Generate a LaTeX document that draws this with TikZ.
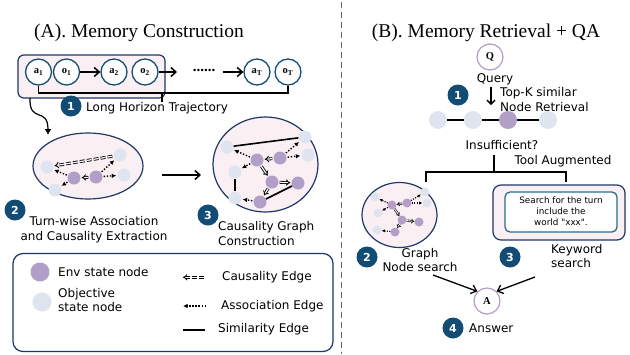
\documentclass[tikz,border=0pt]{standalone}
\usepackage{fontspec}
\setmainfont{Liberation Serif}
\newfontfamily\hand{DejaVu Sans}
\usetikzlibrary{arrows.meta,shapes.geometric,calc}
\definecolor{navy}{RGB}{30,55,105}
\definecolor{tc}{RGB}{25,80,120}
\definecolor{badgec}{RGB}{18,75,115}
\definecolor{envc}{RGB}{178,158,198}
\definecolor{objc}{RGB}{222,229,241}
\definecolor{pinkf}{RGB}{250,239,243}
\definecolor{qc}{RGB}{180,155,200}
\definecolor{inbox}{RGB}{40,110,140}
\tikzset{
  traj/.style={circle, draw=tc, line width=1.3pt, fill=white, minimum size=26pt, inner sep=0pt, font=\fontsize{10.5}{12}\selectfont\bfseries},
  env/.style={circle, fill=envc, minimum size=13pt, inner sep=0pt},
  obj/.style={circle, fill=objc, minimum size=13pt, inner sep=0pt},
  senv/.style={circle, fill=envc, minimum size=9pt, inner sep=0pt},
  sobj/.style={circle, fill=objc, minimum size=9pt, inner sep=0pt},
  caus/.style={double, double distance=1.2pt, line width=0.85pt, -{Implies}, shorten >=1pt, shorten <=1pt},
  assoc/.style={line width=1.4pt, dash pattern=on 1.4pt off 1.7pt, -{Latex[length=4.5pt,width=4.5pt]}, shorten >=1pt, shorten <=1pt},
  simil/.style={line width=1.6pt},
  scaus/.style={double, double distance=0.9pt, line width=0.6pt, -{Implies}},
  sassoc/.style={line width=1.1pt, dash pattern=on 1.1pt off 1.3pt, -{Latex[length=3.2pt,width=3.2pt]}},
  badge/.style={circle, fill=badgec, text=white, minimum size=21pt, inner sep=0pt, font=\hand\bfseries\fontsize{11}{12}\selectfont},
  hand/.style={font=\hand\fontsize{12}{14.5}\selectfont, inner sep=0pt},
  ttl/.style={font=\fontsize{19.5}{21}\selectfont, inner sep=0pt},
  barb/.style={line width=1.5pt, -{Straight Barb[length=5pt,width=9pt]}},
  pinkbox/.style={draw=navy, line width=1.2pt, fill=pinkf},
}
\begin{document}
\begin{tikzpicture}[x=1pt,y=-1pt]
\useasboundingbox (0,0) rectangle (630,354);
\fill[white] (0,0) rectangle (630,354);

% divider
\coordinate (dtop) at (341,2);
\coordinate (dbot) at (341,354);
\draw[gray!80!black, line width=1pt, dash pattern=on 6pt off 4pt] (dtop) -- (dbot);

% ================= (A) =================
\node[ttl] (titleA) at (139,33) {(A). Memory Construction};

\node[pinkbox, rounded corners=6pt, minimum width=147pt, minimum height=43pt, inner sep=0pt] (tbox) at (91.5,76.5) {};

\node[traj] (a1) at (38.5,72) {a\textsubscript{1}};
\node[traj] (o1) at (66.5,72) {o\textsubscript{1}};
\node[traj] (a2) at (114,72) {a\textsubscript{2}};
\node[traj] (o2) at (145,72) {o\textsubscript{2}};
\node[traj] (aT) at (257,72) {a\textsubscript{T}};
\node[traj] (oT) at (288,72) {o\textsubscript{T}};
\node[inner sep=0pt, font=\bfseries\fontsize{15}{15}\selectfont] (dots) at (204,70) {......};
\coordinate (o2e) at (177,72);
\coordinate (dotE) at (223,72);
\draw[barb] (o1) -- (a2);
\draw[barb] (o2) -- (o2e);
\draw[barb] (dotE) -- (aT);

% bracket
\coordinate (brL) at (38.5,93);
\coordinate (brR) at (288,93);
\coordinate (brM) at (162,93);
\coordinate (brMd) at (162,102);
\draw[line width=1.3pt] (a1.south) -- (brL) -- (brR) -- (oT.south);
\draw[line width=1.3pt] (brM) -- (brMd);

\node[badge] (b1) at (71,106) {1};
\node[hand, anchor=west] (t1) at (86,108) {Long Horizon Trajectory};

% curved arrow
\coordinate (cvS) at (30,98);
\coordinate (cvE) at (48,135);
\draw[line width=1.2pt, -{Latex[length=6pt,width=7pt]}] (cvS) .. controls (29,124) and (48,106) .. (cvE);

% ellipse 1
\node[ellipse, pinkbox, minimum width=110pt, minimum height=66pt] (e1) at (88,166) {};
\node[obj] (e1oL) at (47,167) {};
\node[obj] (e1oB) at (55,190) {};
\node[obj] (e1oT) at (120,155) {};
\node[obj] (e1oR) at (124,175) {};
\node[env] (e1p1) at (74,178) {};
\node[env] (e1p2) at (96,177) {};
\draw[caus, dash pattern=on 5pt off 2pt] (e1oT) -- (e1oL);
\draw[assoc] (e1p1) -- (e1oL);
\draw[assoc] (e1p1) -- (e1oB);
\draw[caus] (e1p2) -- (e1p1);
\draw[assoc] (e1p2) -- (e1oT);
\draw[assoc] (e1p2) -- (e1oR);

% big arrow
\coordinate (baS) at (162,175);
\coordinate (baE) at (201,175);
\draw[barb] (baS) -- (baE);

% circle 2
\node[ellipse, pinkbox, minimum width=105pt, minimum height=95pt] (e2) at (265.5,164.5) {};
\node[obj] (c2oT) at (305,137) {};
\node[obj] (c2oR) at (308,155) {};
\node[obj] (c2oLT) at (227,147) {};
\node[obj] (c2oL) at (235,172) {};
\node[obj] (c2oBL) at (235,198) {};
\node[env] (c2p1) at (257,160) {};
\node[env] (c2p2) at (280,158) {};
\node[env] (c2p3) at (272,182) {};
\node[env] (c2p4) at (298,183) {};
\node[env] (c2p5) at (260,202) {};
\draw[simil] (c2oLT) -- (c2oT);
\draw[assoc] (c2p2) -- (c2oT);
\draw[assoc] (c2p1) -- (c2oLT);
\draw[caus] (c2p2) -- (c2p1);
\draw[assoc] (c2p2) -- (c2oR);
\draw[assoc] (c2p1) -- (c2oL);
\draw[caus] (c2p1) -- (c2p3);
\draw[caus] (c2p3) -- (c2p4);
\draw[caus] (c2p3) -- (c2p5);
\draw[simil] (c2oL) -- (c2oBL);
\draw[assoc] (c2p5) -- (c2oBL);
\draw[simil] (c2p5) -- (c2p4);

\node[badge] (b2) at (15,210) {2};
\node[hand, align=center] (t2) at (94,229.5) {Turn-wise Association\\and Causality Extraction};
\node[badge] (b3) at (208,215) {3};
\node[hand, align=left, anchor=west] (t3) at (218,233.5) {Causality Graph\\Construction};

% legend
\node[draw=navy, line width=1.2pt, rounded corners=10pt, minimum width=320pt, minimum height=98pt, inner sep=0pt] (leg) at (173,302.5) {};
\node[env, minimum size=19pt] (lenv) at (40,272) {};
\node[hand, anchor=west] (lenvt) at (58,272) {Env state node};
\node[obj, minimum size=19pt] (lobj) at (42,302) {};
\node[hand, anchor=west, align=left] (lobjt) at (58,300) {Objective\\state node};
\coordinate (lcS) at (204,277.3);
\coordinate (lcE) at (183,277.3);
\draw[double, double distance=1.2pt, line width=0.85pt, -{Implies}, dash pattern=on 5pt off 2pt] (lcS) -- (lcE);
\node[hand, anchor=west] (lct) at (222,277) {Causality Edge};
\coordinate (laS) at (206,306);
\coordinate (laE) at (183,306);
\draw[assoc, shorten >=0pt, shorten <=0pt] (laS) -- (laE);
\node[hand, anchor=west] (lat) at (221,306) {Association Edge};
\coordinate (lsS) at (183,330);
\coordinate (lsE) at (205,330);
\draw[simil] (lsS) -- (lsE);
\node[hand, anchor=west] (lst) at (218,329) {Similarity Edge};

% ================= (B) =================
\node[ttl] (titleB) at (486,33) {(B). Memory Retrieval + QA};
\node[circle, draw=qc, line width=1.2pt, fill=white, minimum size=26pt, inner sep=0pt, font=\bfseries\fontsize{10.5}{12}\selectfont] (Q) at (490,57) {Q};
\node[hand] (query) at (495,79) {Query};
\coordinate (qaS) at (491,87);
\coordinate (qaE) at (491,105);
\draw[line width=1.3pt, -{Straight Barb[length=4pt,width=8pt]}] (qaS) -- (qaE);
\node[hand, align=left, anchor=west] (topk) at (500,99.5) {Top-K similar\\Node Retrieval};
\node[badge] (B1) at (458,95) {1};
\node[obj, minimum size=18pt] (r1) at (438,120) {};
\node[obj, minimum size=18pt] (r2) at (473,120) {};
\node[env, minimum size=18pt] (r3) at (508,120) {};
\node[obj, minimum size=18pt] (r4) at (548,120) {};
\draw[simil] (r1) -- (r2);
\draw[simil] (r2) -- (r3);
\draw[simil] (r3) -- (r4);
\node[hand] (insuf) at (502,145) {Insufficient?};
\node[hand] (tool) at (563,161) {Tool Augmented};
\coordinate (vS) at (494,155);
\coordinate (vE) at (494,172);
\coordinate (bkL) at (426,172);
\coordinate (bkR) at (566,172);
\coordinate (bkLd) at (426,182);
\coordinate (bkRd) at (566,182);
\draw[line width=1.3pt] (vS) -- (vE);
\draw[line width=1.3pt] (bkLd) -- (bkL) -- (bkR) -- (bkRd);

% small graph circle
\node[ellipse, pinkbox, minimum width=75pt, minimum height=65pt] (g3) at (399.5,215) {};
\node[sobj] (so1) at (375,197) {};
\node[sobj] (so2) at (378,213) {};
\node[sobj] (so3) at (377,230) {};
\node[sobj] (so4) at (425,192) {};
\node[sobj] (so5) at (427,203) {};
\node[senv] (sp1) at (392,205) {};
\node[senv] (sp2) at (407,203) {};
\node[senv] (sp3) at (402,220) {};
\node[senv] (sp4) at (419,222) {};
\node[senv] (sp5) at (395,232) {};
\draw[sassoc] (sp1) -- (so1);
\draw[sassoc] (sp1) -- (so2);
\draw[scaus] (sp2) -- (sp1);
\draw[sassoc] (sp2) -- (so4);
\draw[sassoc] (sp2) -- (so5);
\draw[scaus] (sp1) -- (sp3);
\draw[scaus] (sp3) -- (sp4);
\draw[scaus] (sp3) -- (sp5);
\draw[sassoc] (sp5) -- (so3);

% keyword box
\node[pinkbox, rounded corners=8pt, minimum width=132pt, minimum height=55pt, inner sep=0pt] (kbox) at (559,212.5) {};
\node[draw=inbox, line width=1.3pt, fill=white, rounded corners=5pt, minimum width=112pt, minimum height=40pt, inner sep=0pt] (kin) at (561,212) {};
\node[font=\hand\fontsize{8.8}{11}\selectfont, align=center, inner sep=0pt] (ktext) at (561,211) {Search for the turn\\include the\\world "xxx".};

\node[badge] (B2) at (367,257) {2};
\node[hand, align=center] (gns) at (420,260) {Graph\\Node search};
\node[badge] (B3) at (510,257) {3};
\node[hand, align=left, anchor=west] (kws) at (551,256) {Keyword\\search};

\node[circle, draw=qc, line width=1.2pt, fill=white, minimum size=26pt, inner sep=0pt, font=\bfseries\fontsize{10.5}{12}\selectfont] (A) at (487,301) {A};
\coordinate (gaS) at (433,275);
\coordinate (kaS) at (535,277);
\draw[barb, line width=1.3pt] (gaS) -- (A.north west);
\draw[barb, line width=1.3pt] (kaS) -- (A.north east);
\node[badge] (B4) at (453,328) {4};
\node[hand, anchor=west] (ans) at (469,328) {Answer};
\end{tikzpicture}
\end{document}
